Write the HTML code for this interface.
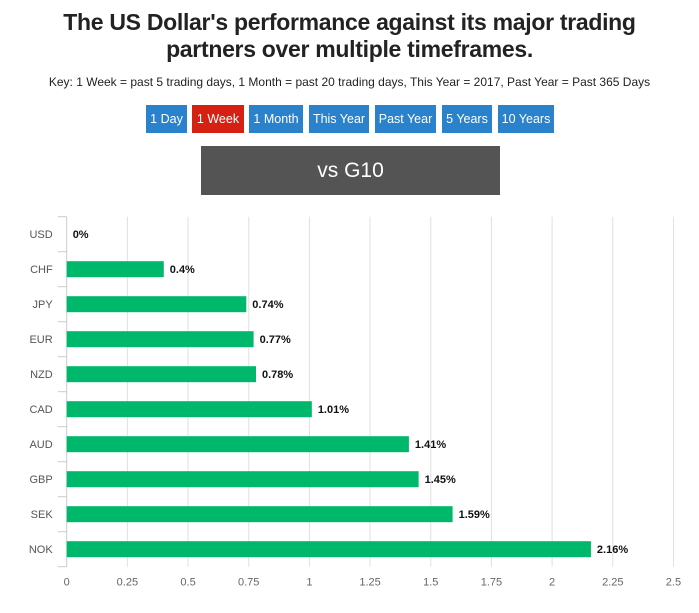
<!DOCTYPE html>
<html><head><meta charset="utf-8"><style>
body{margin:0;width:699px;height:613px;background:#fff;font-family:"Liberation Sans",sans-serif;position:relative;overflow:hidden}
h1{position:absolute;top:9px;left:0;width:699px;margin:0;text-align:center;font-size:23px;line-height:27px;font-weight:bold;color:#222;letter-spacing:-0.3px}
.key{position:absolute;top:75px;left:0;width:699px;text-align:center;font-size:12px;color:#222}
.btn{position:absolute;top:105px;height:28px;line-height:28px;color:#fff;background:#2a82cc;font-size:12.5px;text-align:center}
.sel{background:#d52012}
.vs{position:absolute;left:201px;top:146px;width:299px;height:49px;background:#545454;color:#fff;font-size:21px;line-height:49px;text-align:center}
</style></head><body>
<h1>The US Dollar's performance against its major trading<br>partners over multiple timeframes.</h1>
<div class="key">Key: 1 Week = past 5 trading days, 1 Month = past 20 trading days, This Year = 2017, Past Year = Past 365 Days</div>
<div class="btn" style="left:146px;width:41px">1 Day</div>
<div class="btn sel" style="left:192px;width:52px">1 Week</div>
<div class="btn" style="left:249px;width:54px">1 Month</div>
<div class="btn" style="left:309px;width:60px">This Year</div>
<div class="btn" style="left:375px;width:61px">Past Year</div>
<div class="btn" style="left:442px;width:50px">5 Years</div>
<div class="btn" style="left:498px;width:56px">10 Years</div>
<div class="vs">vs G10</div>
<svg id="chart" width="699" height="613" style="position:absolute;left:0;top:0"></svg>
<script>
const categories=["USD","CHF","JPY","EUR","NZD","CAD","AUD","GBP","SEK","NOK"];
const values=[0,0.4,0.74,0.77,0.78,1.01,1.41,1.45,1.59,2.16];
const valueLabels=["0%","0.4%","0.74%","0.77%","0.78%","1.01%","1.41%","1.45%","1.59%","2.16%"];
const ticks=[0,0.25,0.5,0.75,1,1.25,1.5,1.75,2,2.25,2.5];
const tickLabels=["0","0.25","0.5","0.75","1","1.25","1.5","1.75","2","2.25","2.5"];
const svg=document.getElementById('chart');const NS="http://www.w3.org/2000/svg";
const x0=66.7,unit=242.7,chartTop=216.7,band=35;
const xs=v=>x0+v*unit;const yb=i=>chartTop+i*band;
function mk(t,a,txt){const e=document.createElementNS(NS,t);for(const k in a)e.setAttribute(k,a[k]);if(txt!==undefined)e.textContent=txt;svg.appendChild(e);return e;}
const chartBottom=chartTop+categories.length*band;
ticks.forEach((t,i)=>{
 const g=mk('line',{x1:xs(t),x2:xs(t),y1:chartTop,y2:chartBottom,stroke:i==0?'#ccc':'#e0e0e0','stroke-width':1});
 
 
 const l=mk('text',{x:xs(t),y:chartBottom+19,'text-anchor':'middle','font-size':11,fill:'#666'},tickLabels[i]);
 
 
});
for(let i=0;i<=categories.length;i++){
 const t=mk('line',{x1:x0-9,x2:x0,y1:yb(i),y2:yb(i),stroke:'#ccc','stroke-width':1});
 
 
}
categories.forEach((c,i)=>{
 const cy=yb(i)+band/2;
 const l=mk('text',{x:x0-14,y:cy+4,'text-anchor':'end','font-size':11,fill:'#555'},c);
 
 
 if(values[i]>0){
  const r=mk('rect',{x:x0,y:cy-8,width:xs(values[i])-x0,height:16,fill:'#00b86b'});
  
  
 }
 const v=mk('text',{x:xs(values[i])+6,y:cy+4,'font-size':11,'font-weight':'bold',fill:'#111'},valueLabels[i]);
 
 
});
</script>
</body></html>
